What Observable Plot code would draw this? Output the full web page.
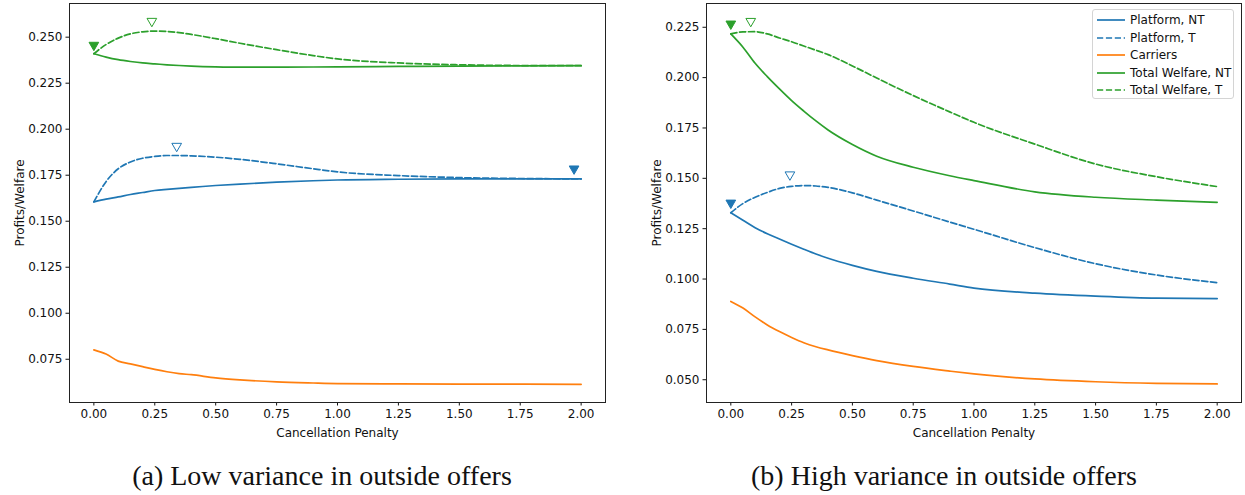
<!DOCTYPE html>
<html>
<head>
<meta charset="utf-8">
<script src="https://cdn.jsdelivr.net/npm/d3@7"></script>
<script src="https://cdn.jsdelivr.net/npm/@observablehq/plot@0.6"></script>
<style>
  html, body { margin: 0; padding: 0; background: #fff; }
  #wrap { position: relative; width: 1245px; height: 495px; overflow: hidden; background: #fff; }
  .panel { position: absolute; top: 0; }
  .caption { position: absolute; font-family: "Liberation Serif", serif; font-size: 28px; color: #111; white-space: nowrap; transform: translateX(-50%); }
  #legend { position: absolute; left: 1092px; top: 9px; width: 142px; height: 90px; border: 1px solid #d4d4d4; border-radius: 3px; background: rgba(255,255,255,0.8); box-sizing: border-box; }
  .lg-row { position: absolute; left: 0; height: 16px; font-family: "DejaVu Sans", sans-serif; font-size: 12px; color: #111; }
  .lg-row svg { position: absolute; left: 3px; top: 0; }
  .lg-row span { position: absolute; left: 37px; top: 0; line-height: 16px; white-space: nowrap; }
</style>
</head>
<body>
<div id="wrap">
  <div id="left" class="panel" style="left:0px"></div>
  <div id="right" class="panel" style="left:620px"></div>
  <div id="legend"></div>
  <div class="caption" style="left:322px; top:460px">(a) Low variance in outside offers</div>
  <div class="caption" style="left:944px; top:460px">(b) High variance in outside offers</div>
</div>
<script>
// ---------- data ----------
const penalty = [0, 0.05, 0.1, 0.15, 0.2, 0.25, 0.3, 0.35, 0.4, 0.5, 0.6, 0.75, 0.9, 1.0, 1.25, 1.5, 1.75, 2.0];

// (a) low variance
const platformNT_low = [0.1605,0.1620,0.1632,0.1645,0.1656,0.1667,0.1673,0.1678,0.1684,0.1694,0.1702,0.1712,0.1720,0.1724,0.1728,0.1730,0.1730,0.1730];
const platformT_low  = [0.1605,0.1715,0.1785,0.1822,0.1842,0.1852,0.1857,0.1857,0.1855,0.1848,0.1836,0.1812,0.1785,0.1768,0.1748,0.1737,0.1732,0.1730];
const carriers_low   = [0.0801,0.0778,0.0740,0.0725,0.0710,0.0695,0.0682,0.0672,0.0666,0.0649,0.0638,0.0627,0.0621,0.0618,0.0616,0.0615,0.0615,0.0614];
const welfareNT_low  = [0.2410,0.2392,0.2378,0.2368,0.2360,0.2355,0.2350,0.2346,0.2343,0.2339,0.2337,0.2337,0.2338,0.2339,0.2341,0.2343,0.2344,0.2345];
const welfareT_low   = [0.2410,0.2460,0.2495,0.2518,0.2529,0.2533,0.2531,0.2525,0.2515,0.2492,0.2467,0.2432,0.2400,0.2382,0.2360,0.2350,0.2346,0.2345];

// (b) high variance
const platformNT_high = [0.1329,0.1292,0.1255,0.1225,0.1199,0.1173,0.1148,0.1124,0.1103,0.1068,0.1038,0.1004,0.0975,0.0955,0.0930,0.0915,0.0905,0.0903];
const platformT_high  = [0.1329,0.1375,0.1406,0.1430,0.1450,0.1460,0.1464,0.1462,0.1455,0.1428,0.1392,0.1338,0.1283,0.1247,0.1156,0.1076,0.1020,0.0982];
const carriers_high   = [0.0889,0.0856,0.0812,0.0772,0.0739,0.0710,0.0684,0.0664,0.0648,0.0620,0.0595,0.0566,0.0543,0.0529,0.0504,0.0490,0.0482,0.0479];
const welfareNT_high  = [0.2217,0.2151,0.2071,0.2005,0.1944,0.1886,0.1834,0.1785,0.1740,0.1668,0.1610,0.1555,0.1513,0.1489,0.1433,0.1406,0.1392,0.1381];
const welfareT_high   = [0.2217,0.2227,0.2228,0.2217,0.2197,0.2178,0.2157,0.2136,0.2114,0.2058,0.1998,0.1911,0.1830,0.1778,0.1670,0.1571,0.1508,0.1459];

// optimum markers
const markerX_low   = [0, 0.238, 0.34, 1.971];
const markerY_low   = [0.2457, 0.2587, 0.1908, 0.1785];
const markerS_low   = ["Total Welfare", "Total Welfare", "Platform", "Platform"];
const markerF_low   = [true, false, false, true];
const markerX_high  = [0, 0.082, 0, 0.243];
const markerY_high  = [0.2267, 0.2280, 0.1378, 0.1518];
const markerS_high  = ["Total Welfare", "Total Welfare", "Platform", "Platform"];
const markerF_high  = [true, false, true, false];

const xTicks = [0, 0.25, 0.5, 0.75, 1.0, 1.25, 1.5, 1.75, 2.0];
const yTicks_low  = [0.075, 0.100, 0.125, 0.150, 0.175, 0.200, 0.225, 0.250];
const yTicks_high = [0.050, 0.075, 0.100, 0.125, 0.150, 0.175, 0.200, 0.225];

const legendLabels = ["Platform, NT", "Platform, T", "Carriers", "Total Welfare, NT", "Total Welfare, T"];
const colors = {"Platform": "#1f77b4", "Carriers": "#ff7f0e", "Total Welfare": "#2ca02c"};
const DASH = "6.2,2.7";
const LW = 1.7;

function series(vals) { return penalty.map((p, i) => ({x: p, y: vals[i]})); }
function markers(xs, ys, ss, fs) { return xs.map((x, i) => ({x, y: ys[i], s: ss[i], f: fs[i]})); }

function panel({lines, mk, yDomain, yTicks, width, marginLeft, marginRight}) {
  const mData = markers(...mk);
  return Plot.plot({
    width, height: 445,
    marginLeft, marginRight, marginTop: 3, marginBottom: 43,
    style: {fontFamily: "DejaVu Sans, sans-serif", fontSize: "12px", color: "#111", background: "#fff"},
    x: {domain: [-0.1, 2.1]},
    y: {domain: yDomain},
    marks: [
      Plot.axisX({ticks: xTicks, tickFormat: d3.format(".2f"), tickSize: 3.5, tickPadding: 3.5,
        label: "Cancellation Penalty", labelAnchor: "center", labelArrow: "none", labelOffset: 34}),
      Plot.axisY({ticks: yTicks, tickFormat: d3.format(".3f"), tickSize: 3.5, tickPadding: 3.5,
        label: "Profits/Welfare", labelAnchor: "center", labelArrow: "none", labelOffset: 54}),
      ...lines.map(l => Plot.line(series(l.vals), {x: "x", y: "y", stroke: colors[l.s], strokeWidth: LW,
        curve: "monotone-x", strokeDasharray: l.dashed ? DASH : null})),
      Plot.dot(mData.filter(d => d.f), {x: "x", y: "y", symbol: "triangle", rotate: 180, r: 3.6,
        fill: d => colors[d.s], stroke: d => colors[d.s], strokeWidth: 1}),
      Plot.dot(mData.filter(d => !d.f), {x: "x", y: "y", symbol: "triangle", rotate: 180, r: 3.6,
        fill: "none", stroke: d => colors[d.s], strokeWidth: 1}),
      Plot.frame({stroke: "#222", strokeWidth: 1})
    ]
  });
}

document.getElementById("left").append(panel({
  lines: [
    {vals: platformNT_low, s: "Platform", dashed: false},
    {vals: platformT_low, s: "Platform", dashed: true},
    {vals: carriers_low, s: "Carriers", dashed: false},
    {vals: welfareNT_low, s: "Total Welfare", dashed: false},
    {vals: welfareT_low, s: "Total Welfare", dashed: true}
  ],
  mk: [markerX_low, markerY_low, markerS_low, markerF_low],
  yDomain: [0.0515, 0.2683], yTicks: yTicks_low,
  width: 620, marginLeft: 69, marginRight: 15
}));

document.getElementById("right").append(panel({
  lines: [
    {vals: platformNT_high, s: "Platform", dashed: false},
    {vals: platformT_high, s: "Platform", dashed: true},
    {vals: carriers_high, s: "Carriers", dashed: false},
    {vals: welfareNT_high, s: "Total Welfare", dashed: false},
    {vals: welfareT_high, s: "Total Welfare", dashed: true}
  ],
  mk: [markerX_high, markerY_high, markerS_high, markerF_high],
  yDomain: [0.0387, 0.2368], yTicks: yTicks_high,
  width: 625, marginLeft: 86, marginRight: 4
}));

// legend
const legendSeries = ["Platform", "Platform", "Carriers", "Total Welfare", "Total Welfare"];
const legendDashed = [false, true, false, false, true];
const lg = document.getElementById("legend");
legendLabels.forEach((lab, i) => {
  const row = document.createElement("div");
  row.className = "lg-row";
  row.style.top = (2 + i * 17.6) + "px";
  row.innerHTML = `<svg width="30" height="16"><line x1="1" x2="29" y1="8" y2="8" stroke="${colors[legendSeries[i]]}" stroke-width="${LW}" ${legendDashed[i] ? `stroke-dasharray="${DASH}"` : ""}/></svg><span>${lab}</span>`;
  lg.append(row);
});
</script>
</body>
</html>
